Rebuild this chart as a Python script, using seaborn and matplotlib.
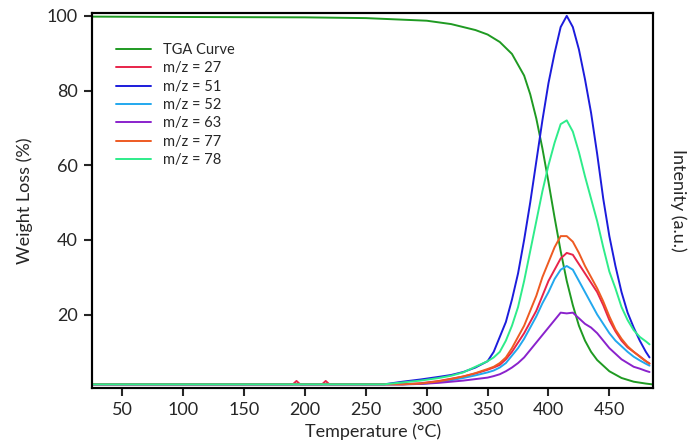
import pandas as pd
import seaborn as sns
import matplotlib
matplotlib.use("Agg")
import matplotlib.pyplot as plt

# TGA curve (weight %)
tga_temp = [25, 100, 200, 250, 300, 320, 340, 350, 360, 370, 380, 385, 390, 395,
            400, 405, 410, 415, 420, 425, 430, 435, 440, 450, 460, 470, 480, 485]
tga_weight = [99.8, 99.7, 99.6, 99.4, 98.7, 97.8, 96.2, 95.0, 93.0, 89.8, 84.0,
              79.0, 72.5, 64.5, 55.5, 46.0, 37.0, 29.0, 22.5, 17.0, 13.0, 10.0,
              7.8, 4.8, 3.0, 2.0, 1.5, 1.3]

# MS signals (arb. units, drawn on the same 0-100 scale)
ms_temp = [25, 190, 193, 196, 214, 217, 220, 265, 280, 295, 310, 320, 330, 340,
           350, 355, 360, 365, 370, 375, 380, 385, 390, 395, 400, 405, 410, 415,
           420, 425, 430, 435, 440, 445, 450, 455, 460, 465, 470, 475, 480, 483]
mz27 = [1.3, 1.3, 2.2, 1.3, 1.3, 2.2, 1.3, 1.3, 1.3, 1.6, 2.2, 2.8, 3.4, 4.2,
        5.2, 5.8, 6.5, 8.0, 10.0, 12.5, 15.0, 18.0, 21.0, 25.0, 29.0, 32.0, 35.0, 36.5,
        36.0, 33.5, 31.0, 28.5, 26.0, 22.5, 18.5, 15.5, 13.0, 11.2, 10.0, 8.8, 7.5, 6.9]
mz51 = [1.3, 1.3, 1.3, 1.3, 1.3, 1.3, 1.3, 1.3, 2.0, 2.6, 3.3, 3.8, 4.6, 5.8,
        7.5, 10.0, 14.0, 18.0, 24.0, 31.0, 40.0, 50.0, 61.0, 72.0, 82.0, 90.0, 97.0, 100.0,
        97.0, 91.0, 83.0, 74.0, 63.0, 51.0, 41.0, 33.0, 26.0, 20.5, 16.5, 13.0, 10.0, 8.5]
mz52 = [1.3, 1.3, 1.3, 1.3, 1.3, 1.3, 1.3, 1.3, 1.3, 1.4, 1.9, 2.4, 3.0, 3.7,
        4.5, 5.0, 5.8, 7.0, 9.0, 11.0, 13.5, 16.5, 19.5, 23.0, 26.0, 29.5, 32.0, 33.0,
        32.0, 29.0, 26.0, 23.0, 20.0, 17.5, 15.0, 13.0, 11.5, 10.0, 8.7, 7.7, 6.8, 6.3]
mz63 = [1.3, 1.3, 1.3, 1.3, 1.3, 1.3, 1.3, 1.3, 1.3, 1.4, 1.7, 2.0, 2.3, 2.7,
        3.1, 3.5, 4.0, 4.8, 5.8, 7.0, 8.5, 10.5, 12.5, 14.5, 16.5, 18.5, 20.5, 20.3,
        20.5, 19.0, 17.5, 16.5, 15.0, 13.0, 11.0, 9.5, 8.0, 7.0, 6.0, 5.5, 4.9, 4.6]
mz77 = [1.3, 1.3, 1.3, 1.3, 1.3, 1.3, 1.3, 1.3, 1.3, 1.5, 2.1, 2.7, 3.4, 4.3,
        5.4, 6.0, 7.0, 8.5, 11.0, 14.0, 17.0, 21.0, 25.0, 30.0, 34.0, 38.0, 41.0, 41.0,
        39.5, 36.5, 33.0, 30.0, 27.0, 23.5, 19.5, 16.0, 13.5, 11.5, 10.0, 8.7, 7.5, 6.8]
mz78 = [1.3, 1.3, 1.3, 1.3, 1.3, 1.3, 1.3, 1.3, 1.8, 2.3, 3.0, 3.6, 4.5, 6.0,
        7.5, 8.5, 10.0, 13.0, 17.0, 22.0, 29.0, 37.0, 45.0, 53.0, 60.0, 66.0, 71.0, 72.0,
        69.0, 63.5, 57.0, 51.0, 45.0, 38.0, 31.5, 27.0, 22.0, 18.5, 15.8, 14.0, 12.8, 12.0]

ms_labels = ["m/z = 27", "m/z = 51", "m/z = 52", "m/z = 63", "m/z = 77", "m/z = 78"]
ms_colors = ["#e8244a", "#1c1cdc", "#22a8ee", "#8a22cc", "#ee5a22", "#2eec8a"]

ms = pd.DataFrame({"T": ms_temp, "m/z = 27": mz27, "m/z = 51": mz51, "m/z = 52": mz52,
                   "m/z = 63": mz63, "m/z = 77": mz77, "m/z = 78": mz78})
ms_long = ms.melt(id_vars="T", var_name="signal", value_name="I")

sns.set_style("ticks")
plt.rcParams["font.family"] = ["Lato", "DejaVu Sans"]

fig, ax = plt.subplots(figsize=(6.89, 4.44), dpi=100)
fig.subplots_adjust(left=0.1335, right=0.948, bottom=0.126, top=0.971)
ax2 = ax.twinx()

sns.lineplot(x=tga_temp, y=tga_weight, ax=ax, color="#1f9a22", lw=1.4, label="TGA Curve")
sns.lineplot(data=ms_long, x="T", y="I", hue="signal", hue_order=ms_labels,
             palette=ms_colors, ax=ax2, lw=1.4)

for a in (ax, ax2):
    a.set_xlim(25, 486)
    a.set_ylim(0.3, 100.8)
    for s in a.spines.values():
        s.set_visible(True)
        s.set_linewidth(1.5)
        s.set_color("black")

ax.set_xticks(range(50, 451, 50))
ax.set_yticks([20, 40, 60, 80, 100])
ax.tick_params(axis="both", direction="out", length=6, width=1.5, labelsize=13, pad=4)
ax2.set_yticks([])
ax.set_xlabel("Temperature (°C)", fontsize=13, labelpad=4)
ax.set_ylabel("Weight Loss (%)", fontsize=13, labelpad=10)
ax2.set_ylabel("Intenity (a.u.)", fontsize=13, rotation=270, labelpad=24)

h1, l1 = ax.get_legend_handles_labels()
h2, l2 = ax2.get_legend_handles_labels()
ax.get_legend().remove()
ax2.legend(h1 + h2, l1 + l2, loc="upper left", bbox_to_anchor=(0.02, 0.955),
           frameon=False, fontsize=10.5, handlelength=2.4, labelspacing=0.3,
           handletextpad=0.8)

fig.savefig("out.png", dpi=100)
